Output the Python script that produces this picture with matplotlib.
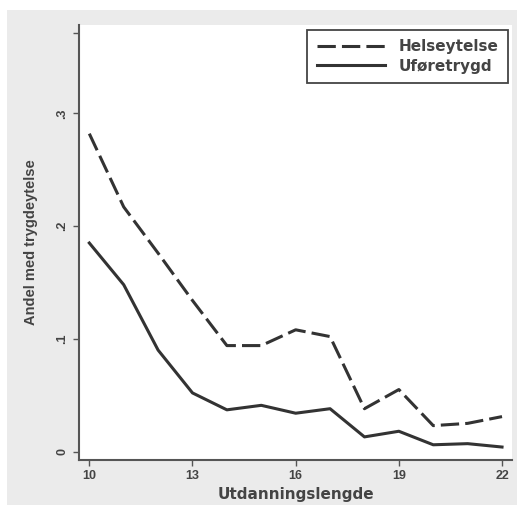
import matplotlib
matplotlib.use("Agg")
import matplotlib.pyplot as plt
from matplotlib.patches import Rectangle

years = [10, 11, 12, 13, 14, 15, 16, 17, 18, 19, 20, 21, 22]
helseytelse = [0.282, 0.217, 0.176, 0.134, 0.094, 0.094, 0.108, 0.102, 0.038, 0.055, 0.023, 0.025, 0.031]
uforetrygd = [0.185, 0.148, 0.090, 0.052, 0.037, 0.041, 0.034, 0.038, 0.013, 0.018, 0.006, 0.007, 0.004]
xticks = [10, 13, 16, 19, 22]
yticks = [0, 0.1, 0.2, 0.3, 0.371]
yticklabels = ["0", ".1", ".2", ".3", ""]

plt.rcParams['font.family'] = ['Liberation Sans', 'DejaVu Sans']
col = "#333333"
tcol = "#444444"

fig = plt.figure(figsize=(5.2, 5.11), dpi=100)
fig.patch.set_facecolor("white")
fig.patches.append(Rectangle((7/520, 6/511), 510/520, 495/511, transform=fig.transFigure,
                             facecolor="#ebebeb", edgecolor="none", zorder=-10))

ax = fig.add_axes([79/520, 51/511, 433/520, 435/511])
ax.set_facecolor("white")
ax.plot(years, helseytelse, color=col, lw=2.2, dashes=(6, 2), label="Helseytelse")
ax.plot(years, uforetrygd, color=col, lw=2.2, label="Uføretrygd")

ax.set_xlim(9.70, 22.29)
ax.set_ylim(-0.0075, 0.3784)
ax.set_xticks(xticks)
ax.set_xticklabels([str(v) for v in xticks], fontsize=9, color=tcol, fontweight="bold")
ax.set_yticks(yticks)
ax.set_yticklabels(yticklabels, fontsize=9, color=tcol, rotation=90, va="center", fontweight="bold")
ax.tick_params(axis="both", direction="out", length=4, width=1, color="#555555")
for s in ["top", "right"]:
    ax.spines[s].set_visible(False)
for s in ["left", "bottom"]:
    ax.spines[s].set_color("#555555")
    ax.spines[s].set_linewidth(1.5)

ax.set_xlabel("Utdanningslengde", fontsize=11, fontweight="bold", color=tcol,
              labelpad=3, family="DejaVu Sans")
ax.set_ylabel("Andel med trygdeytelse", fontsize=10.5, fontweight="bold", color=tcol)
ax.yaxis.set_label_coords(-(79 - 38) / 433, 0.5)

leg = ax.legend(loc="upper right", bbox_to_anchor=(0.991, 0.9885), borderaxespad=0,
                frameon=True, fancybox=False,
                edgecolor="#444444", framealpha=1, handlelength=4.5, handletextpad=0.9,
                borderpad=0.6, labelspacing=0.3,
                prop={"weight": "bold", "size": 11, "family": "DejaVu Sans"})
leg.get_frame().set_linewidth(1.3)
for t in leg.get_texts():
    t.set_color(tcol)

fig.savefig("out.png", dpi=100)
